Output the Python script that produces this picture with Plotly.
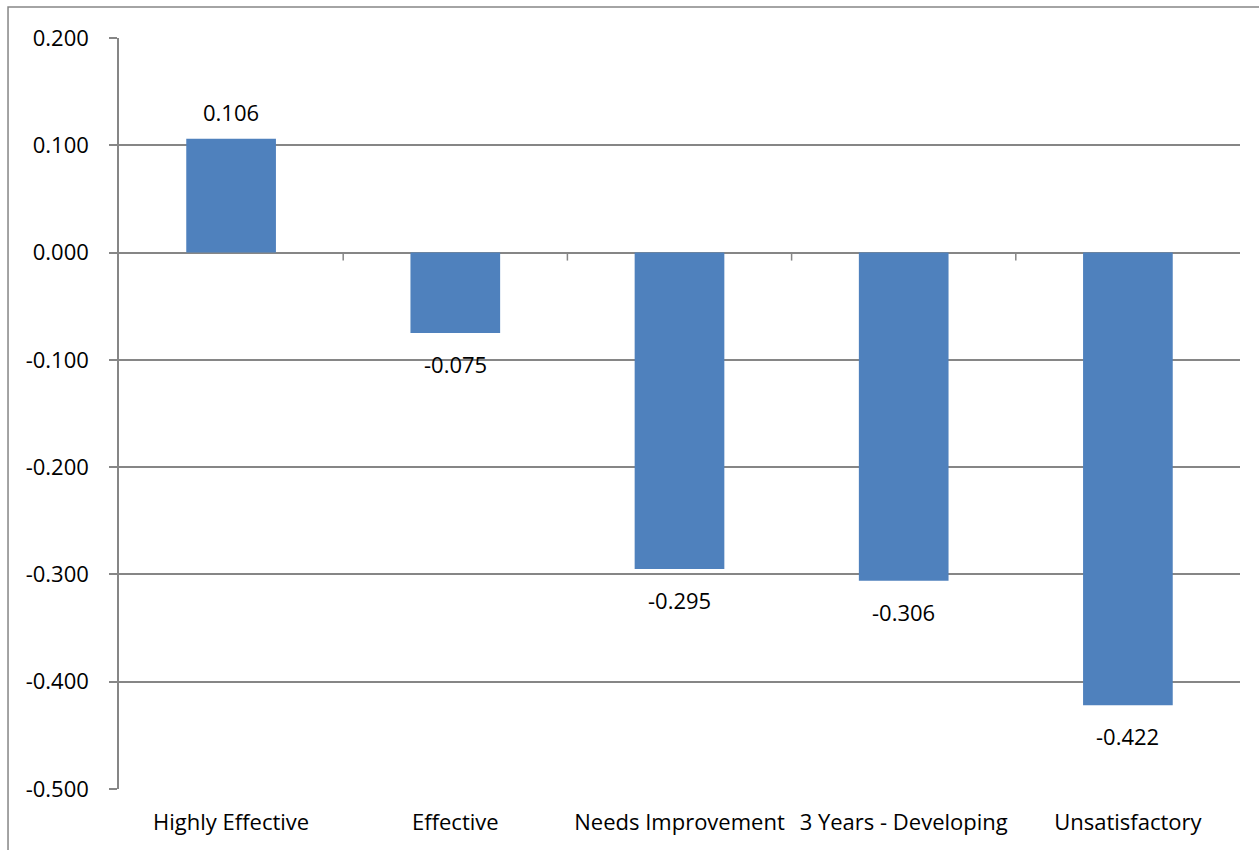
import plotly.graph_objects as go

categories = ["Highly Effective", "Effective", "Needs Improvement", "3 Years - Developing", "Unsatisfactory"]
values = [0.106, -0.075, -0.295, -0.306, -0.422]
y_ticks = [0.2, 0.1, 0.0, -0.1, -0.2, -0.3, -0.4, -0.5]
y_tick_text = ["0.200", "0.100", "0.000", "-0.100", "-0.200", "-0.300", "-0.400", "-0.500"]

GRID = "#868686"
FONT = "Open Sans"
FS = 22

fig = go.Figure(go.Bar(
    x=categories, y=values,
    marker=dict(color="#4F81BD", line=dict(width=0)),
    cliponaxis=False,
))

for c, v in zip(categories, values):
    fig.add_annotation(x=c, y=v, text=f"{v:.3f}", showarrow=False,
                       yanchor="middle", yshift=27 if v >= 0 else -31,
                       font=dict(family=FONT, size=FS, color="black"))

shapes = []
for i in range(1, len(categories)):
    shapes.append(dict(type="line", xref="x", yref="y", x0=i - 0.5, x1=i - 0.5,
                       ysizemode="pixel", yanchor=0, y0=0, y1=-8,
                       line=dict(color=GRID, width=1.5)))
shapes.append(dict(type="rect", xref="paper", yref="paper",
                   x0=-0.099, x1=1.2, y0=-0.3, y1=1.0413,
                   line=dict(color=GRID, width=1.5), layer="below"))

fig.update_layout(
    width=1259, height=850,
    margin=dict(l=119, r=19, t=38, b=61),
    paper_bgcolor="white", plot_bgcolor="white",
    showlegend=False,
    bargap=0.6,
    font=dict(family=FONT, size=FS, color="black"),
    shapes=shapes,
    xaxis=dict(showline=False, ticks="", showgrid=False,
               tickfont=dict(family=FONT, size=FS),
               ticklabelstandoff=18),
    yaxis=dict(range=[-0.5, 0.2], tickvals=y_ticks, ticktext=y_tick_text,
               showgrid=True, gridcolor=GRID, gridwidth=1.5,
               zeroline=True, zerolinecolor=GRID, zerolinewidth=1.5,
               showline=True, linecolor=GRID, linewidth=1.5,
               ticks="outside", ticklen=8, tickcolor=GRID, tickwidth=1.5,
               tickfont=dict(family=FONT, size=FS), ticklabelstandoff=16),
)

fig.write_html("out.html")
